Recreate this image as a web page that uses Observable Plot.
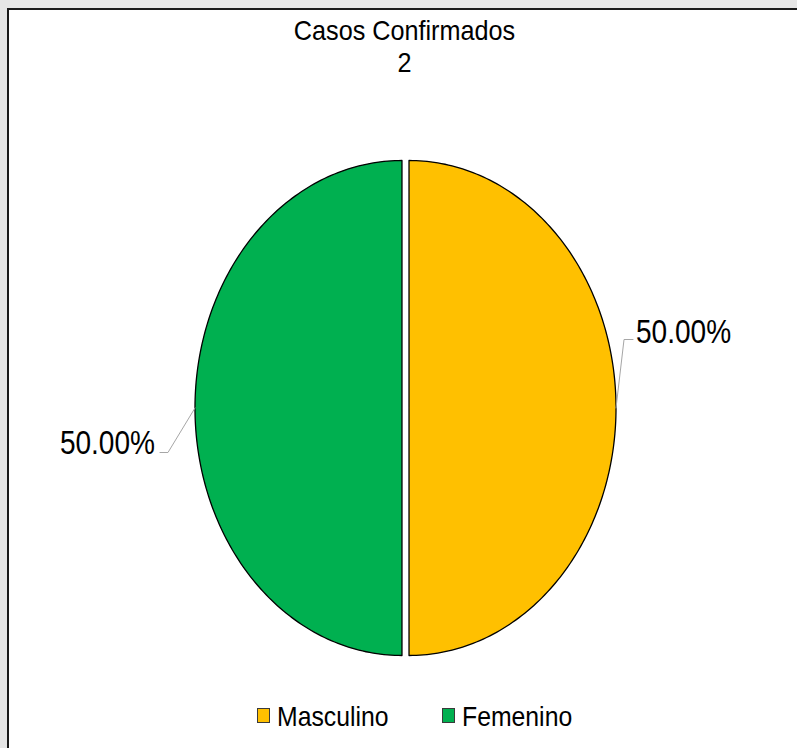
<!DOCTYPE html>
<html>
<head>
<meta charset="utf-8">
<script src="https://cdn.jsdelivr.net/npm/d3@7"></script>
<script src="https://cdn.jsdelivr.net/npm/@observablehq/plot@0.6"></script>
<style>
  html, body { margin: 0; padding: 0; width: 797px; height: 748px; overflow: hidden; background: #e6e6e6; font-family: "Liberation Sans", Arial, sans-serif; }
  #panel { position: absolute; left: 7px; top: 8px; width: 790px; height: 740px; background: #fff; border-top: 2px solid #1a1a1a; border-left: 2px solid #1a1a1a; }
  #chart { position: absolute; left: 0; top: 0; }
  #title { position: absolute; left: 0; top: 15px; width: 809px; text-align: center; font-size: 28px; line-height: 32px; color: #000; transform: scaleX(0.9); transform-origin: 404.5px 0; }
  .leg { position: absolute; top: 702px; font-size: 28px; line-height: 30px; color: #000; white-space: nowrap; transform: scaleX(0.885); transform-origin: 0 0; }
  .sw { position: absolute; width: 11px; height: 13px; border: 1px solid #3a3a3a; top: 708px; }
</style>
</head>
<body>
<div id="panel"></div>
<div id="title"></div>
<div id="chart"></div>
<div id="legend"></div>
<script>
// ---- data ----
const title = "Casos Confirmados";
const categories = ["Masculino", "Femenino"];
const values = [1, 1];
const colors = ["#FFC000", "#00B050"];

const total = d3.sum(values);
document.getElementById("title").innerHTML = title + "<br>" + total;

// ---- geometry from data ----
const pie = d3.pie().sort(null)(values);
const explode = 0.017;
const W = 797, H = 748;
const mL = 198, mR = 185, mT = 160, mB = 93;
const kx = 2 / (W - mL - mR), ky = 2 / (H - mT - mB);

const slices = pie.map((p, i) => {
  const mid = (p.startAngle + p.endAngle) / 2;
  const cx = explode * Math.sin(mid), cy = explode * Math.cos(mid);
  const pts = [{x: cx, y: cy}];
  const n = 180;
  for (let k = 0; k <= n; k++) {
    const a = p.startAngle + (p.endAngle - p.startAngle) * k / n;
    pts.push({x: cx + Math.sin(a), y: cy + Math.cos(a)});
  }
  pts.push({x: cx, y: cy});
  const ax = cx + Math.sin(mid), ay = cy + Math.cos(mid);
  const right = Math.sin(mid) >= 0;
  // leader line offsets (pixels) relative to the anchor on the edge
  const off = right ? [[8, -68.5], [17, -68.5]] : [[-27, 44.5], [-35, 44.5]];
  const leader = [{x: ax, y: ay}, ...off.map(([dx, dy]) => ({x: ax + dx * kx, y: ay - dy * ky}))];
  return {
    category: categories[i], color: colors[i], pts, leader,
    label: (values[i] / total * 100).toFixed(2) + "%",
    ax, ay, right,
    tdx: right ? 20 : -40, tdy: right ? -65.5 : 45.5
  };
});

const marks = [];
for (const s of slices) {
  marks.push(Plot.line(s.pts, {x: "x", y: "y", fill: s.color, stroke: "#000", strokeWidth: 1.3, strokeLinejoin: "round", curve: "linear"}));
}
for (const s of slices) {
  marks.push(Plot.line(s.leader, {x: "x", y: "y", stroke: "#a6a6a6", strokeWidth: 1}));
  marks.push(Plot.text([s], {x: "ax", y: "ay", text: "label", dx: s.tdx, dy: s.tdy,
    textAnchor: s.right ? "start" : "end", lineAnchor: "bottom",
    fontSize: 33, fill: "#000", fontFamily: "Liberation Sans, Arial, sans-serif"}));
}

const chart = Plot.plot({
  width: W, height: H,
  marginLeft: mL, marginRight: mR, marginTop: mT, marginBottom: mB,
  x: {domain: [-1, 1], axis: null},
  y: {domain: [-1, 1], axis: null},
  style: {background: "transparent", overflow: "visible"},
  marks
});
// horizontally condensed label text, as in the reference
chart.querySelectorAll("text").forEach(t => {
  const tr = t.getAttribute("transform") || "";
  t.setAttribute("transform", (tr + " scale(0.85,1)").trim());
});
document.getElementById("chart").appendChild(chart);

// ---- legend ----
const legend = document.getElementById("legend");
const legPos = [257, 442];
categories.forEach((c, i) => {
  const sw = document.createElement("div");
  sw.className = "sw";
  sw.style.left = legPos[i] + "px";
  sw.style.background = colors[i];
  legend.appendChild(sw);
  const t = document.createElement("div");
  t.className = "leg";
  t.style.left = (legPos[i] + 20) + "px";
  t.textContent = c;
  legend.appendChild(t);
});
</script>
</body>
</html>
